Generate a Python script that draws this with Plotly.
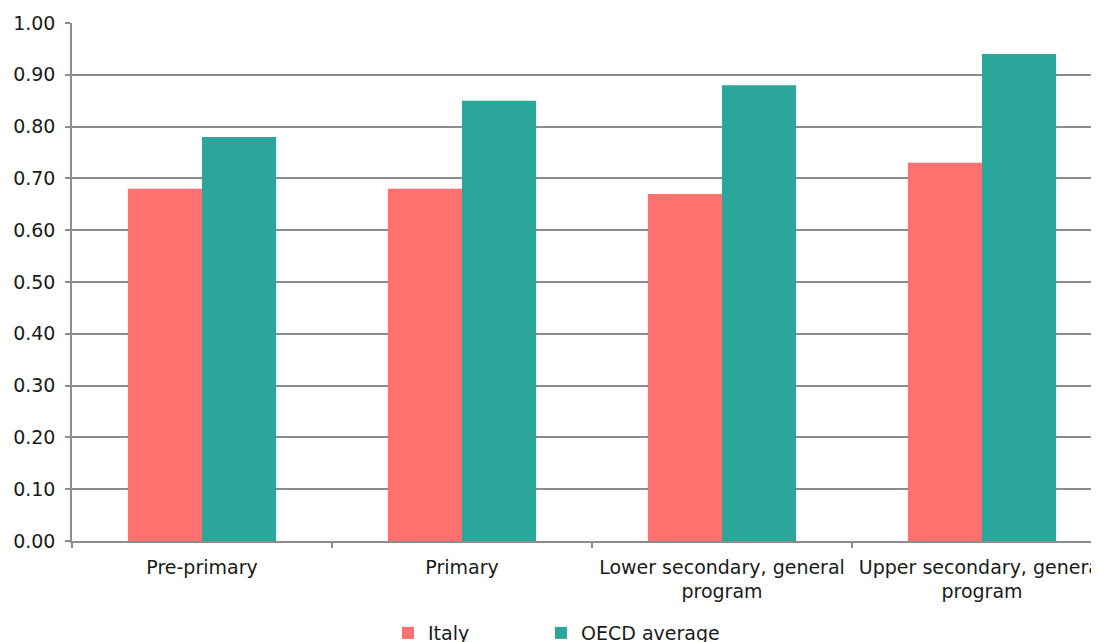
import plotly.graph_objects as go

categories = ["Pre-primary", "Primary", "Lower secondary, general<br>program",
              "Upper secondary, general<br>program"]
italy = [0.68, 0.68, 0.67, 0.73]
oecd = [0.78, 0.85, 0.88, 0.94]
y_ticks = [round(i * 0.1, 1) for i in range(11)]

FONT = "Verdana, DejaVu Sans, sans-serif"
GRID = "#8c8c8c"

fig = go.Figure()
fig.add_trace(go.Bar(name="Italy", x=categories, y=italy, legendwidth=108,
                     marker=dict(color="#FF716E", line=dict(width=0))))
fig.add_trace(go.Bar(name="OECD average", x=categories, y=oecd, legendwidth=170,
                     marker=dict(color="#2AA69A", line=dict(width=0))))

fig.update_layout(
    template="none",
    width=1099, height=642,
    margin=dict(l=64, r=0, t=15, b=109, autoexpand=False),
    barmode="group", bargap=0.43, bargroupgap=0,
    paper_bgcolor="white", plot_bgcolor="white",
    font=dict(family=FONT, size=19, color="#1a1a1a"),
    legend=dict(orientation="h", x=0.3053, xanchor="left", y=-0.141, yanchor="top",
                font=dict(size=19), traceorder="normal",
                bgcolor="rgba(0,0,0,0)"),
    xaxis=dict(range=[-0.5, -0.5 + 1035 / 260], showgrid=False, showline=True,
               linecolor=GRID, linewidth=1.5, ticks="outside", tickson="boundaries",
               ticklen=5, tickcolor=GRID, tickwidth=1.5, tickangle=0,
               automargin=False, fixedrange=True, ticklabelstandoff=8),
    yaxis=dict(range=[0, 1], tickvals=y_ticks, tickformat=".2f", showgrid=True,
               gridcolor=GRID, gridwidth=1.5, showline=True, linecolor=GRID,
               linewidth=1.5, ticks="outside", ticklen=5, tickcolor=GRID,
               tickwidth=1.5, zeroline=False, automargin=False, ticklabelstandoff=6),
)

fig.write_html("out.html")
